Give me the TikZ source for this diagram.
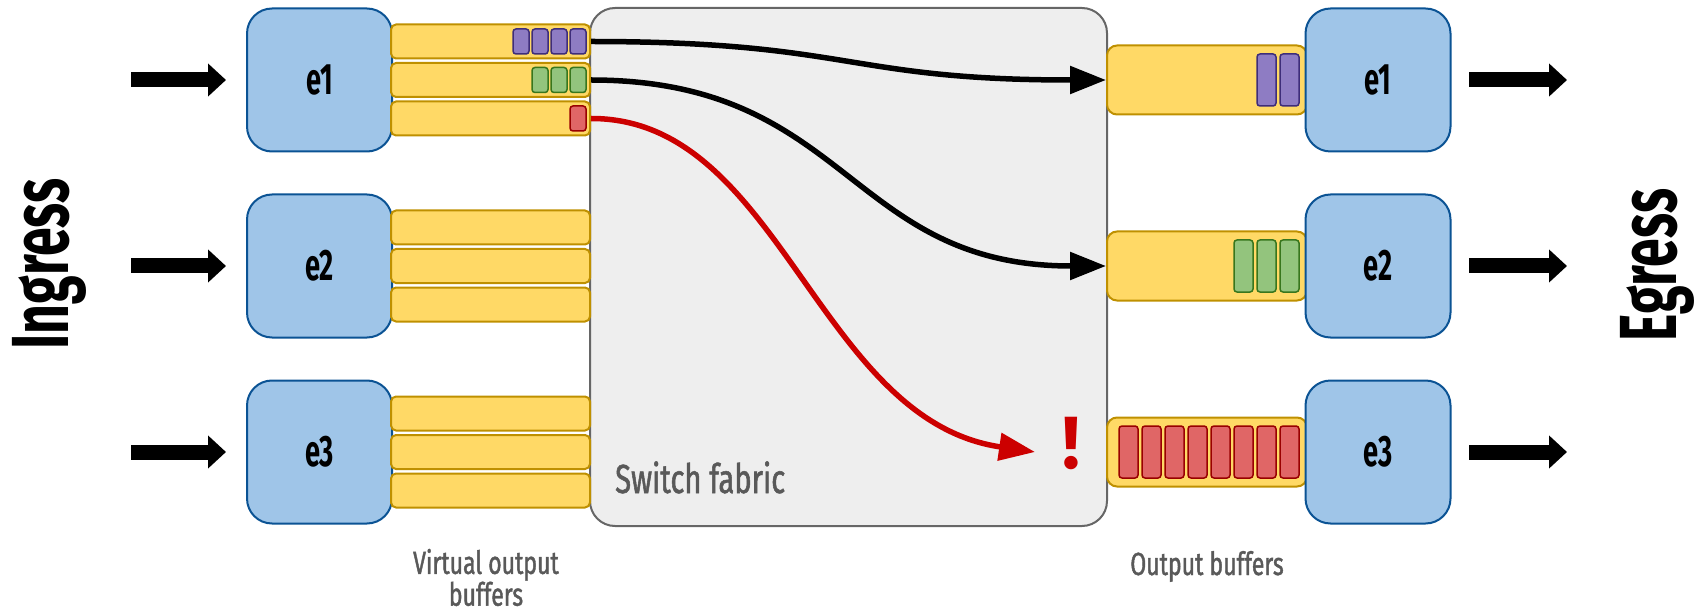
\documentclass[tikz,border=0pt]{standalone}
\usepackage{fontspec}
\setmainfont{Fira Sans}
\newfontfamily\efont{Fira Sans}[FakeStretch=0.62]
\newfontfamily\lfont{Fira Sans}[FakeStretch=0.72,FakeBold=1.3]
\newfontfamily\bigfont{Fira Sans}[FakeStretch=0.64]
\usetikzlibrary{arrows.meta}
\definecolor{boxfill}{HTML}{9FC5E8}
\definecolor{boxdraw}{HTML}{0B5394}
\definecolor{buffill}{HTML}{FFD966}
\definecolor{bufdraw}{HTML}{BF9000}
\definecolor{purfill}{HTML}{8E7CC3}
\definecolor{purdraw}{HTML}{3E2D7A}
\definecolor{grnfill}{HTML}{93C47D}
\definecolor{grndraw}{HTML}{38761D}
\definecolor{redfill}{HTML}{E06666}
\definecolor{reddraw}{HTML}{990000}
\definecolor{redline}{HTML}{CC0000}
\definecolor{fabfill}{HTML}{EEEEEE}
\definecolor{fabdraw}{HTML}{666666}
\definecolor{labgray}{HTML}{595959}
\tikzset{
  portbox/.style={draw=boxdraw, fill=boxfill, line width=2pt, rounded corners=25pt,
    minimum width=145pt, minimum height=143pt, inner sep=0pt,
    font=\efont\bfseries\fontsize{44}{50}\selectfont},
  voqbuf/.style={draw=bufdraw, fill=buffill, line width=2pt, rounded corners=5pt,
    minimum width=199pt, minimum height=34pt, inner sep=0pt},
  outbuf/.style={draw=bufdraw, fill=buffill, line width=2pt, rounded corners=10pt,
    minimum width=200pt, minimum height=69pt, inner sep=0pt},
  smallpkt/.style={line width=1.5pt, rounded corners=3pt, minimum width=16pt,
    minimum height=25pt, inner sep=0pt},
  bigpkt/.style={line width=1.5pt, rounded corners=3pt, minimum width=19pt,
    minimum height=52pt, inner sep=0pt},
  purpkt/.style={draw=purdraw, fill=purfill},
  grnpkt/.style={draw=grndraw, fill=grnfill},
  redpkt/.style={draw=reddraw, fill=redfill},
  fabric/.style={draw=fabdraw, fill=fabfill, line width=2pt, rounded corners=25pt,
    minimum width=517pt, minimum height=518pt, inner sep=0pt},
  fatarrow/.style={line width=15pt, -{Triangle[length=18pt,width=32pt]}},
  flowarrow/.style={line width=5.5pt, -{Triangle[length=36pt,width=27pt]}},
  graylabel/.style={text=labgray, inner sep=0pt, font=\lfont\fontsize{32}{29}\selectfont},
}
\begin{document}
\begin{tikzpicture}[x=1pt,y=-1pt]
\useasboundingbox (0,0) rectangle (1699,612);
% switch fabric
\node[fabric] (fab) at (848.5,267) {};
\node[text=labgray, anchor=base west, inner sep=0pt,
  font=\lfont\fontsize{40.6}{48}\selectfont] (fablab) at (615,493) {Switch fabric};
% ingress ports and VOQ buffers
\foreach \r/\y in {1/80,2/266,3/452}{
  \node[portbox] (in\r) at (319.5,\y) {e\r};
  \node[voqbuf] (v\r1) at (490.5,\y-38.5) {};
  \node[voqbuf] (v\r2) at (490.5,\y) {};
  \node[voqbuf] (v\r3) at (490.5,\y+38.5) {};
  \node[outbuf] (o\r) at (1207,\y) {};
  \node[portbox] (eg\r) at (1378,\y) {e\r};
  \coordinate (ias\r) at (131,\y);
  \coordinate (iae\r) at (226,\y);
  \coordinate (eas\r) at (1469,\y);
  \coordinate (eae\r) at (1567,\y);
  \draw[fatarrow] (ias\r) -- (iae\r);
  \draw[fatarrow] (eas\r) -- (eae\r);
}
% packets in VOQs of e1
\foreach \i/\x in {1/521,2/540,3/559,4/578}{
  \node[smallpkt,purpkt] (vp\i) at (\x,41.5) {};
}
\foreach \i/\x in {2/540,3/559,4/578}{
  \node[smallpkt,grnpkt] (vg\i) at (\x,80) {};
}
\node[smallpkt,redpkt] (vr4) at (578,118.5) {};
% packets in output buffers
\foreach \k in {0,1}{
  \node[bigpkt,purpkt] (op\k) at (1289.5-23*\k,80) {};
}
\foreach \k in {0,1,2}{
  \node[bigpkt,grnpkt] (og\k) at (1289.5-23*\k,266) {};
}
\foreach \k in {0,...,7}{
  \node[bigpkt,redpkt] (or\k) at (1289.5-23*\k,452) {};
}
% flows
\draw[flowarrow] (v11.east) .. controls +(260,0) and +(-260,0) .. (o1.west);
\draw[flowarrow] (v12.east) .. controls +(258,0) and +(-258,0) .. (o2.west);
\coordinate (redtip) at (1035,452);
\draw[flowarrow, color=redline] (v13.east) .. controls (780,118) and (817,420) .. (redtip);
\node[text=redline, inner sep=0pt, anchor=base,
  font=\bfseries\fontsize{74}{80}\selectfont] (bang) at (1071.5,468) {!};
% side labels
\node[rotate=90, anchor=base, inner sep=0pt,
  font=\bigfont\bfseries\fontsize{81}{90}\selectfont] (ingress) at (68,264) {Ingress};
\node[rotate=90, anchor=base, inner sep=0pt,
  font=\bigfont\bfseries\fontsize{81}{90}\selectfont] (egress) at (1676,265) {Egress};
% bottom labels
\node[graylabel, align=center] (voblab) at (486,577.5) {Virtual output\\buffers};
\node[graylabel, anchor=base] (oblab) at (1207,575) {Output buffers};
\end{tikzpicture}
\end{document}
